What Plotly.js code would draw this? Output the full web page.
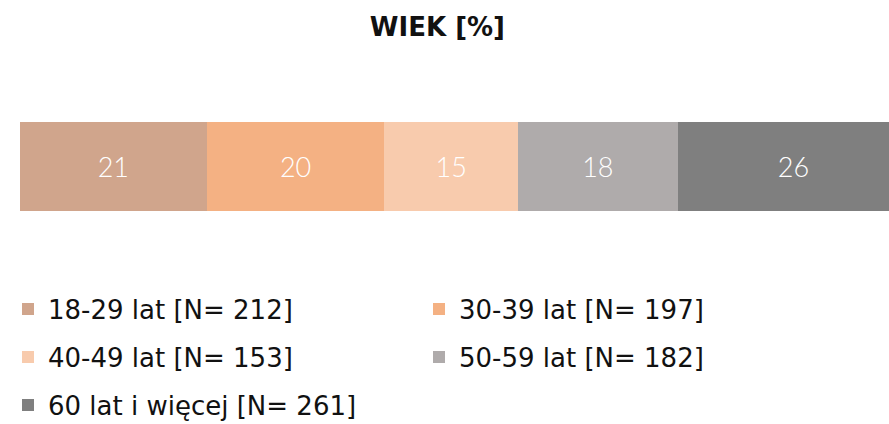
<!DOCTYPE html>
<html><head><meta charset="utf-8">
<script src="https://cdn.plot.ly/plotly-3.0.1.min.js"></script>
<style>html,body{margin:0;padding:0;background:#fff;}#chart{width:889px;height:424px;}</style>
</head><body><div id="chart"></div>
<script>
const categories = ["18-29 lat [N= 212]", "30-39 lat [N= 197]", "40-49 lat [N= 153]", "50-59 lat [N= 182]", "60 lat i więcej [N= 261]"];
const values = [21, 20, 15, 18, 26];
const colors = ["#D0A58C", "#F4B183", "#F8CBAD", "#AFABAB", "#7F7F7F"];
const legendIds = ["legend", "legend", "legend2", "legend2", "legend3"];
const chartTitle = "WIEK [%]";

const traces = categories.map((c, i) => ({
  type: "bar", orientation: "h",
  x: [values[i]], y: ["WIEK"],
  name: c,
  marker: {color: colors[i], line: {width: 0}},
  text: [String(values[i])], textposition: "inside", insidetextanchor: "middle",
  textfont: {family: "Lato", size: 27, color: "#ffffff", weight: 300},
  hoverinfo: "none",
  legend: legendIds[i]
}));

const legBase = {
  orientation: "h", xref: "container", yref: "container", x: 8/889,
  xanchor: "left", yanchor: "middle", entrywidth: 366, entrywidthmode: "pixels",
  font: {family: "DejaVu Sans", size: 26, color: "#111111"}, bgcolor: "rgba(0,0,0,0)", traceorder: "normal"
};

const layout = {
  width: 889, height: 424,
  margin: {l: 20, r: 0, t: 122, b: 213, pad: 0},
  paper_bgcolor: "#ffffff", plot_bgcolor: "rgba(0,0,0,0)",
  barmode: "stack", bargap: 0,
  title: {text: "<b>" + chartTitle + "</b>", x: 0.492, xanchor: "center", y: 1 - 27/424, yanchor: "middle", yref: "container",
          font: {family: "DejaVu Sans", size: 26, color: "#111111"}},
  xaxis: {range: [0, 97.75], visible: false, fixedrange: true},
  yaxis: {visible: false, fixedrange: true},
  showlegend: true,
  legend: Object.assign({}, legBase, {y: 1 - 309/424}),
  legend2: Object.assign({}, legBase, {y: 1 - 357/424}),
  legend3: Object.assign({}, legBase, {y: 1 - 405/424}),
  uniformtext: {mode: false}
};

Plotly.newPlot("chart", traces, layout, {staticPlot: true, displayModeBar: false});
</script></body></html>
